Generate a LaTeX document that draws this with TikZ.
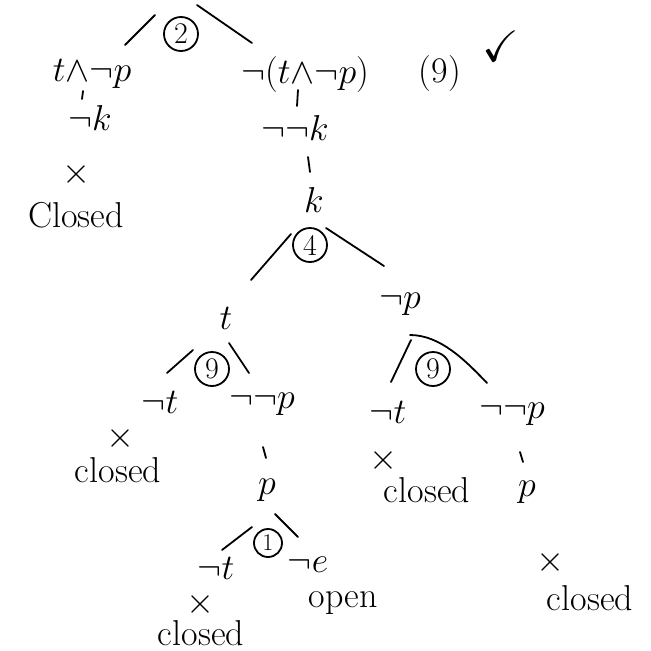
\RequirePackage{fix-cm}
\documentclass[tikz,border=0pt]{standalone}
\usepackage{amssymb}
\begin{document}
\begin{tikzpicture}[x=1pt,y=-1pt,
  lbl/.style={inner sep=0pt,font=\fontsize{36}{40}\selectfont},
  rule/.style={draw,circle,line width=1.8pt,inner sep=0pt,minimum size=34pt,font=\fontsize{30}{32}\selectfont},
  br/.style={line width=1.8pt,line cap=round},
  tk/.style={line width=1.8pt,line cap=round}]
\useasboundingbox (0,0) rectangle (651,651);
% top
\node[rule] (r2) at (181,34) {2};
\coordinate (a1) at (155,15); \coordinate (a2) at (125,45);
\coordinate (a3) at (197,5); \coordinate (a4) at (252,43);
\draw[br] (a1) -- (a2); \draw[br] (a3) -- (a4);
\node[lbl] (L1) at (92,74) {$t{\wedge}\neg p$};
\node[lbl] (L2) at (90,118) {$\neg k$};
\draw[tk] (83,91) -- (82,99);
\node[lbl] (X1) at (76,174) {$\times$};
\node[lbl] (C1) at (76,215) {Closed};
\node[lbl] (R1) at (305,74) {$\neg(t{\wedge}\neg p)$};
\node[lbl] (R9) at (440,74) {(9)};
\node[lbl,font=\fontsize{44}{48}\selectfont] (chk) at (501,46) {$\checkmark$};
\draw[tk] (298,90) -- (297,106);
\node[lbl] (R2) at (295,128) {$\neg\neg k$};
\draw[tk] (308,157) -- (310,172);
\node[lbl] (R3) at (314,200) {$k$};
% rule 4
\node[rule] (r4) at (310,245) {4};
\coordinate (b1) at (291,234); \coordinate (b2) at (251,280);
\coordinate (b3) at (326,228); \coordinate (b4) at (384,266);
\draw[br] (b1) -- (b2); \draw[br] (b3) -- (b4);
\node[lbl] (T) at (226,318) {$t$};
\node[lbl] (NP) at (400,304) {$\neg p$};
% rule 9 left
\node[rule] (r9a) at (212,369) {9};
\coordinate (c1) at (193,350); \coordinate (c2) at (167,373);
\coordinate (c3) at (229,343); \coordinate (c4) at (249,373);
\draw[br] (c1) -- (c2); \draw[br] (c3) -- (c4);
\node[lbl] (NT1) at (160,402) {$\neg t$};
\node[lbl] (NNP1) at (262,404) {$\neg\neg p$};
\node[lbl] (X2) at (120,438) {$\times$};
\node[lbl] (C2) at (118,470) {closed};
\draw[tk] (263,447) -- (266,458);
\node[lbl] (P1) at (267,490) {$p$};
% rule 1
\node[rule,minimum size=28pt,font=\fontsize{24}{26}\selectfont] (r1) at (268,543) {1};
\coordinate (d1) at (252,527); \coordinate (d2) at (222,550);
\coordinate (d3) at (275,514); \coordinate (d4) at (298,537);
\draw[br] (d1) -- (d2); \draw[br] (d3) -- (d4);
\node[lbl] (NT2) at (216,568) {$\neg t$};
\node[lbl] (NE) at (308,565) {$\neg e$};
\node[lbl] (X3) at (200,604) {$\times$};
\node[lbl] (C3) at (201,633) {closed};
\node[lbl] (OP) at (343,603) {open};
% rule 9 right
\node[rule] (r9b) at (433,369) {9};
\coordinate (e1) at (411,340); \coordinate (e2) at (391,382);
\coordinate (e3) at (410,335); \coordinate (e4) at (487,383);
\draw[br] (e1) -- (e2); \draw[br] (e3) .. controls (440,335) and (465,360) .. (e4);
\node[lbl] (NT3) at (388,412) {$\neg t$};
\node[lbl] (NNP2) at (512,414) {$\neg\neg p$};
\node[lbl] (X4) at (383,460) {$\times$};
\node[lbl] (C4) at (427,490) {closed};
\draw[tk] (520,452) -- (523,462);
\node[lbl] (P2) at (527,492) {$p$};
\node[lbl] (X5) at (550,562) {$\times$};
\node[lbl] (C5) at (590,598) {closed};
\end{tikzpicture}
\end{document}
